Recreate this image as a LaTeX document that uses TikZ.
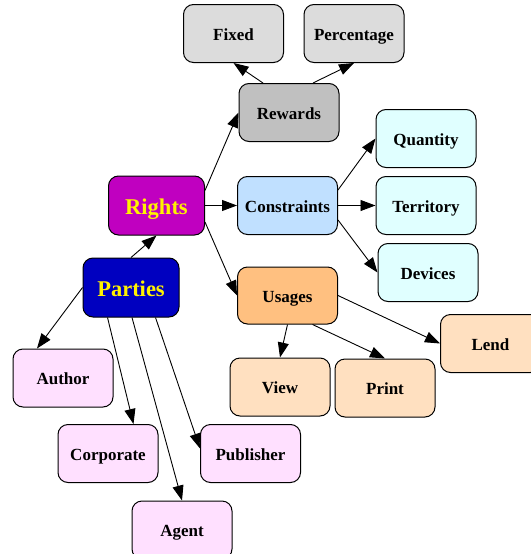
\documentclass[tikz,border=0pt]{standalone}
\usepackage{fontspec}
\setmainfont{Liberation Serif}
\usetikzlibrary{arrows.meta,calc}
\definecolor{cgray}{HTML}{DCDCDC}
\definecolor{crew}{HTML}{C0C0C0}
\definecolor{crights}{HTML}{C000C0}
\definecolor{cparties}{HTML}{0000C0}
\definecolor{ccons}{HTML}{C0E0FF}
\definecolor{ccyan}{HTML}{E0FFFF}
\definecolor{cusages}{HTML}{FFC080}
\definecolor{cuse}{HTML}{FFE0C0}
\definecolor{cparty}{HTML}{FFE0FF}
\tikzset{
  box/.style={draw=black, line width=1pt, rounded corners=10pt, minimum width=100pt, minimum height=58pt, inner sep=0pt, text height=15pt, text depth=2pt, font=\fontsize{17}{19}\selectfont\bfseries},
  bigbox/.style={box, minimum width=96pt, minimum height=59pt, text=yellow, text height=19pt, text depth=2pt, font=\fontsize{22.5}{25}\selectfont\bfseries},
  link/.style={line width=0.9pt, -{Triangle[length=15pt,width=11pt]}}
}
\begin{document}
\begin{tikzpicture}[x=1pt,y=-1pt]
\useasboundingbox (0,0) rectangle (530,554);
\node[box, fill=cgray] (fixed) at (233.5,33.5) {Fixed};
\node[box, fill=cgray] (perc) at (354,33.5) {Percentage};
\node[box, fill=crew] (rewards) at (289,112.5) {Rewards};
\node[bigbox, fill=crights] (rights) at (156.5,205.5) {Rights};
\node[box, fill=ccons] (cons) at (287.5,205.5) {Constraints};
\node[box, fill=ccyan] (quantity) at (426,138.5) {Quantity};
\node[box, fill=ccyan] (territory) at (426,205.5) {Territory};
\node[box, fill=ccyan] (devices) at (428,272.5) {Devices};
\node[box, fill=cusages, minimum height=57pt] (usages) at (287.5,295.5) {Usages};
\node[bigbox, fill=cparties] (parties) at (131,287.5) {Parties};
\node[box, fill=cparty] (author) at (63,378) {Author};
\node[box, fill=cparty] (corporate) at (108,453.5) {Corporate};
\node[box, fill=cparty] (publisher) at (250.5,453.5) {Publisher};
\node[box, fill=cparty] (agent) at (182,530) {Agent};
\node[box, fill=cuse] (view) at (280,387) {View};
\node[box, fill=cuse] (print) at (385,388) {Print};
\node[box, fill=cuse] (lend) at (490.5,343.5) {Lend};

\draw[link] (parties.north) -- (rights.south);
\draw[link] ($(rights.east)+(0,-15)$) -- (rewards.west);
\draw[link] (rights.east) -- (cons.west);
\draw[link] ($(rights.east)+(0,16.5)$) -- (usages.west);
\draw[link] ($(rewards.north)+(-26,0)$) -- (fixed.south);
\draw[link] ($(rewards.north)+(24,0)$) -- (perc.south);
\draw[link] ($(cons.east)+(0,-15.5)$) -- (quantity.west);
\draw[link] (cons.east) -- (territory.west);
\draw[link] ($(cons.east)+(0,14.5)$) -- (devices.west);
\draw[link] (usages.east) -- (lend.west);
\draw[link] (usages.south) -- (view.north);
\draw[link] ($(usages.south)+(25,0)$) -- (print.north);
\draw[link] (parties.west) -- ($(author.north)+(-26,0)$);
\draw[link] ($(parties.south)+(-23.5,0)$) -- ($(corporate.north)+(25.5,0)$);
\draw[link] ($(parties.south)+(1,0)$) -- (agent.north);
\draw[link] ($(parties.south)+(24.5,0)$) -- ($(publisher.west)+(0,-5)$);
\end{tikzpicture}
\end{document}
